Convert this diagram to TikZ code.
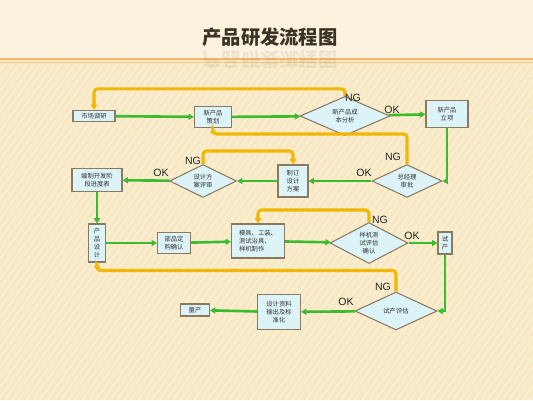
\documentclass[tikz,border=0pt]{standalone}
\usepackage{fontspec}
\setmainfont{Noto Sans CJK SC}
\setsansfont{Liberation Sans}
\usetikzlibrary{shapes.geometric,arrows.meta}

\definecolor{bgcream}{HTML}{F8E9C4}
\definecolor{bgtop}{HTML}{FCF3DF}
\definecolor{boxfill}{HTML}{DCF3F8}
\definecolor{boxedge}{HTML}{8C7A60}
\definecolor{okgreen}{HTML}{3DBA2E}
\definecolor{nggold}{HTML}{F2B705}
\definecolor{titlebrown}{HTML}{3B3326}

\begin{document}
\begin{tikzpicture}[x=0.02cm,y=-0.02cm,
    box/.style={draw=boxedge,fill=boxfill,line width=0.6pt,inner sep=0pt,
        align=center,font=\fontsize{3.6}{4.6}\selectfont,text=black!80},
    decision/.style={diamond,draw=boxedge,fill=boxfill,line width=0.6pt,inner sep=0pt,
        align=center,font=\fontsize{3.6}{4.6}\selectfont,text=black!80},
    okline/.style={draw=okgreen,line width=1.5pt,-{Triangle[length=3pt,width=3.4pt]}},
    ngline/.style={draw=nggold,line width=1.8pt,rounded corners=2pt,
        -{Triangle[length=3pt,width=3.6pt]}},
    lbl/.style={font=\sffamily\fontsize{6}{6}\selectfont,text=black!85,inner sep=0pt}
]
    % background
    \useasboundingbox (0,0) rectangle (533,400);
    \fill[bgcream] (0,0) rectangle (533,400);
    \fill[bgtop] (0,0) rectangle (533,60);
    \begin{scope}
        \clip (0,62) rectangle (533,400);
        \foreach \i in {-240,-233,...,533}
            \draw[white,opacity=0.28,line width=1.1pt] (\i,400) -- (\i+240,62);
    \end{scope}
    \draw[draw=orange!45!bgcream,line width=1.3pt] (0,59) -- (533,59);
    \draw[draw=orange!30!bgcream,line width=0.5pt] (0,62.5) -- (533,62.5);

    % title and its reflection
    \node[font=\bfseries\fontsize{11}{11}\selectfont,text=titlebrown] (title) at (270,37) {产品研发流程图};
    \node[font=\bfseries\fontsize{11}{11}\selectfont,text=titlebrown,opacity=0.08,
        yscale=-1,anchor=south] (mirror) at (270,44) {产品研发流程图};

    % steps
    \node[box,minimum width=42*0.02cm,minimum height=11*0.02cm] (mk) at (94,116) {市场调研};
    \node[box,minimum width=37*0.02cm,minimum height=21*0.02cm] (ch) at (213,117) {新产品\\策划};
    \node[decision,minimum width=90*0.02cm,minimum height=32*0.02cm] (cb) at (345,116) {新产品成\\本分析};
    \node[box,minimum width=42*0.02cm,minimum height=27*0.02cm] (lx) at (447,114) {新产品\\立项};
    \node[decision,minimum width=70*0.02cm,minimum height=28*0.02cm] (sp) at (407,181) {总经理\\审批};
    \node[box,minimum width=30*0.02cm,minimum height=32*0.02cm] (fa) at (293,181) {制订\\设计\\方案};
    \node[decision,minimum width=67*0.02cm,minimum height=27*0.02cm] (ps) at (203,181) {设计方\\案评审};
    \node[box,minimum width=50*0.02cm,minimum height=23*0.02cm] (jd) at (97,180) {编制开发阶\\段进度表};
    \node[box,minimum width=17*0.02cm,minimum height=38*0.02cm] (sj) at (97,243) {产\\品\\设\\计};
    \node[box,minimum width=33*0.02cm,minimum height=21*0.02cm] (bp) at (174,243) {部品定\\购确认};
    \node[box,minimum width=53*0.02cm,minimum height=34*0.02cm,align=left] (mj) at (258,241) {模具、工装、\\测试治具、\\样机制作};
    \node[decision,minimum width=78*0.02cm,minimum height=37*0.02cm] (yj) at (369,243) {样机测\\试评估\\确认};
    \node[box,minimum width=14*0.02cm,minimum height=22*0.02cm] (sc) at (445,243) {试\\产};
    \node[decision,minimum width=82*0.02cm,minimum height=38*0.02cm] (pg) at (396,311) {试产评估};
    \node[box,minimum width=43*0.02cm,minimum height=35*0.02cm] (zl) at (279,312) {设计资料\\输出及标\\准化};
    \node[box,minimum width=29*0.02cm,minimum height=12*0.02cm] (lc) at (195,310) {量产};

    % main flow
    \draw[okline] (mk) -- (ch);
    \draw[okline] (ch) -- (cb);
    \draw[okline] (cb) -- (lx);
    \draw[okline] (lx.south) |- (sp.east);
    \draw[okline] (sp) -- (fa);
    \draw[okline] (fa) -- (ps);
    \draw[okline] (ps) -- (jd);
    \draw[okline] (jd) -- (sj);
    \draw[okline] (sj) -- (bp);
    \draw[okline] (bp) -- (mj);
    \draw[okline] (mj) -- (yj);
    \draw[okline] (yj) -- (sc);
    \draw[okline] (sc.south) |- (pg.east);
    \draw[okline] (pg) -- (zl);
    \draw[okline] (zl) -- (lc);

    % rework loops
    \draw[ngline] (cb.north) -- ++(0,-7) -| (mk.north);
    \draw[ngline] (sp.north) -- ++(0,-30) -| (ch.south);
    \draw[ngline] (ps.north) -- ++(0,-13) -| (fa.north);
    \draw[ngline] (yj.north) -- ++(0,-12) -| (mj.north);
    \draw[ngline] (pg.north) -- ++(0,-21) -| (sj.south);

    % labels
    \node[lbl] (ok1) at (392,110) {OK};
    \node[lbl] (ng1) at (353,98) {NG};
    \node[lbl] (ng2) at (393,157) {NG};
    \node[lbl] (ok2) at (364,173) {OK};
    \node[lbl] (ng3) at (193,161) {NG};
    \node[lbl] (ok3) at (161,173) {OK};
    \node[lbl] (ng4) at (380,220) {NG};
    \node[lbl] (ok4) at (412,236) {OK};
    \node[lbl] (ng5) at (383,287) {NG};
    \node[lbl] (ok5) at (346,302) {OK};
\end{tikzpicture}
\end{document}
